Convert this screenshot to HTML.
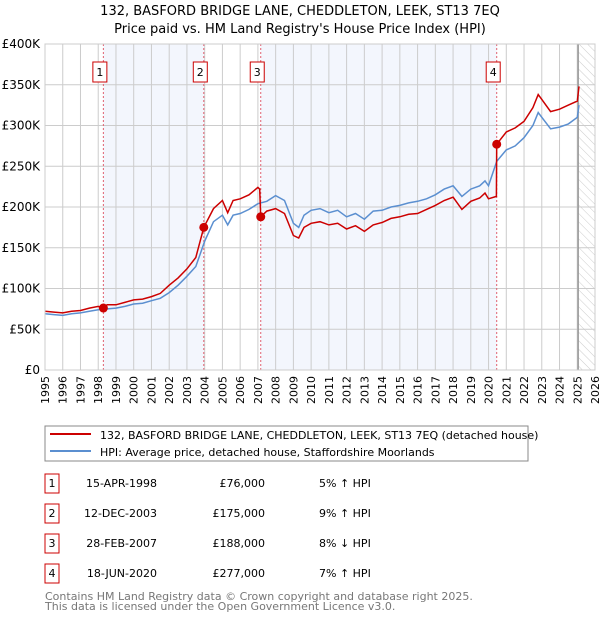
<!DOCTYPE html>
<html><head><meta charset="utf-8"><style>
body{margin:0;background:#fff;font-family:"DejaVu Sans","Liberation Sans",sans-serif;}
svg text{font-family:"DejaVu Sans","Liberation Sans",sans-serif;}
</style></head><body>
<svg id="chart" width="600" height="620" xmlns="http://www.w3.org/2000/svg">
<defs><pattern id="hatch" width="6" height="6" patternUnits="userSpaceOnUse" patternTransform="rotate(-45)"><line x1="0" y1="0" x2="0" y2="6" stroke="#ccc" stroke-width="1"/></pattern></defs>
<text x="300" y="15" text-anchor="middle" font-size="13">132, BASFORD BRIDGE LANE, CHEDDLETON, LEEK, ST13 7EQ</text>
<text x="300" y="33" text-anchor="middle" font-size="13">Price paid vs. HM Land Registry's House Price Index (HPI)</text>
<g id="plot"></g>
<rect x="45" y="426" width="483" height="35" fill="#fff" stroke="#888"/>
<line x1="50" y1="434" x2="91" y2="434" stroke="#cc0000" stroke-width="2"/>
<text x="100" y="439" font-size="11">132, BASFORD BRIDGE LANE, CHEDDLETON, LEEK, ST13 7EQ (detached house)</text>
<line x1="50" y1="451" x2="91" y2="451" stroke="#5b8fd0" stroke-width="2"/>
<text x="100" y="456" font-size="11">HPI: Average price, detached house, Staffordshire Moorlands</text>
<g id="table" font-size="11"></g>
<text x="45" y="600" font-size="11" fill="#777">Contains HM Land Registry data © Crown copyright and database right 2025.</text>
<text x="45" y="610" font-size="11" fill="#777">This data is licensed under the Open Government Licence v3.0.</text>
</svg>
<script>
const hpiYears=[1995,1995.5,1996,1996.5,1997,1997.5,1998,1998.5,1999,1999.5,2000,2000.5,2001,2001.5,2002,2002.5,2003,2003.5,2004,2004.5,2005,2005.3,2005.6,2006,2006.5,2007,2007.5,2008,2008.5,2009,2009.3,2009.6,2010,2010.5,2011,2011.5,2012,2012.5,2013,2013.5,2014,2014.5,2015,2015.5,2016,2016.5,2017,2017.5,2018,2018.5,2019,2019.5,2019.8,2020,2020.46,2021,2021.5,2022,2022.5,2022.8,2023,2023.5,2024,2024.5,2025,2025.1];
const hpiValues=[69,68,67,69,70,72,74,75,76,78,81,82,85,88,95,104,115,127,158,182,190,178,190,192,197,204,207,214,208,180,175,190,196,198,193,196,188,192,185,195,196,200,202,205,207,210,215,222,226,213,222,226,232,226,256,270,275,285,300,316,310,296,298,302,310,325];
const priceYears=[1995,1995.5,1996,1996.5,1997,1997.5,1998,1998.29,1998.5,1999,1999.5,2000,2000.5,2001,2001.5,2002,2002.5,2003,2003.5,2003.95,2004.5,2005,2005.3,2005.6,2006,2006.5,2007,2007.1,2007.16,2007.5,2008,2008.5,2009,2009.3,2009.6,2010,2010.5,2011,2011.5,2012,2012.5,2013,2013.5,2014,2014.5,2015,2015.5,2016,2016.5,2017,2017.5,2018,2018.5,2019,2019.5,2019.8,2020,2020.44,2020.46,2021,2021.5,2022,2022.5,2022.8,2023,2023.5,2024,2024.5,2025,2025.1];
const priceValues=[72,71,70,72,73,76,78,76,80,80,83,86,87,90,94,104,113,124,138,175,198,208,193,208,210,215,224,222,188,195,198,192,165,162,175,180,182,178,180,173,177,170,178,181,186,188,191,192,197,202,208,212,197,207,211,217,210,213,277,292,297,305,322,338,332,317,320,325,330,348];
const saleLabels=["1","2","3","4"];
const saleYears=[1998.29,2003.95,2007.16,2020.46];
const saleValues=[76,175,188,277];
const saleDates=["15-APR-1998","12-DEC-2003","28-FEB-2007","18-JUN-2020"];
const salePrices=["£76,000","£175,000","£188,000","£277,000"];
const saleDiffs=["5% ↑ HPI","9% ↑ HPI","8% ↓ HPI","7% ↑ HPI"];
const yTicks=[0,50,100,150,200,250,300,350,400];
const yTickLabels=["£0","£50K","£100K","£150K","£200K","£250K","£300K","£350K","£400K"];
const NS="http://www.w3.org/2000/svg";
const L=45,R=595,T=44,B=370;
const x=t=>L+(t-1995)*(R-L)/31;
const y=v=>B-v*(B-T)/400;
const g=document.getElementById('plot');
function mk(tag,attrs,parent){const e=document.createElementNS(NS,tag);for(const k in attrs)e.setAttribute(k,attrs[k]);(parent||g).appendChild(e);return e;}
for(let i=0;i<saleYears.length;i+=2){const x2=i+1<saleYears.length?x(saleYears[i+1]):x(saleYears[i]);
const r=mk('rect',{x:x(saleYears[i]),y:T,width:x2-x(saleYears[i]),height:B-T,fill:'#f3f6fd'});

}
const hz=mk('rect',{x:x(2025.05),y:T,width:R-x(2025.05),height:B-T,fill:'url(#hatch)'});


for(let yr=1995;yr<=2026;yr++){const l=mk('line',{x1:x(yr),x2:x(yr),y1:T,y2:B,stroke:'#ccc'});


const t=mk('text',{x:0,y:0,'font-size':11,'text-anchor':'end',transform:`translate(${x(yr)+4},${B+6}) rotate(-90)`});t.textContent=yr;

}
yTicks.forEach((v,i)=>{const l=mk('line',{x1:L,x2:R,y1:y(v),y2:y(v),stroke:'#ccc'});


const t=mk('text',{x:L-5,y:y(v)+4,'font-size':12,'text-anchor':'end'});t.textContent=yTickLabels[i];

});
const ln=mk('line',{x1:x(2025.05),x2:x(2025.05),y1:T,y2:B,stroke:'#999',"stroke-width":1.5});


saleYears.forEach(s=>{const l=mk('line',{x1:x(s),x2:x(s),y1:T,y2:B,stroke:'#e06070','stroke-dasharray':'2,2'});

});
const pts=(xs,vs)=>xs.map((t,i)=>x(t).toFixed(1)+','+y(vs[i]).toFixed(1)).join(' ');
const hl=mk('polyline',{points:pts(hpiYears,hpiValues),fill:'none',stroke:'#5b8fd0','stroke-width':1.5});


const pl=mk('polyline',{points:pts(priceYears,priceValues),fill:'none',stroke:'#cc0000','stroke-width':1.5});


saleYears.forEach((s,i)=>{const c=mk('circle',{cx:x(s),cy:y(saleValues[i]),r:4.5,fill:'#cc0000'});


const b=mk('rect',{x:x(s)-10.5,y:62,width:14,height:20,fill:'#fff',stroke:'#cc0000'});


const t=mk('text',{x:x(s)-3.5,y:76,'font-size':11,'text-anchor':'middle'});t.textContent=saleLabels[i];

});
const fr=mk('rect',{x:L,y:T,width:R-L,height:B-T,fill:'none',stroke:'#ccc'});


const tb=document.getElementById('table');
saleLabels.forEach((lab,i)=>{const cy=483+i*30;
const b=mk('rect',{x:45,y:cy-9,width:14,height:19,fill:'#fff',stroke:'#cc0000'},tb);


const cells=[[52,lab,'middle'],[157,saleDates[i],'end'],[265,salePrices[i],'end'],[319,saleDiffs[i],'start']];
cells.forEach(c=>{const t=mk('text',{x:c[0],y:cy+4,'text-anchor':c[2]},tb);t.textContent=c[1];

});});
</script>
</body></html>
